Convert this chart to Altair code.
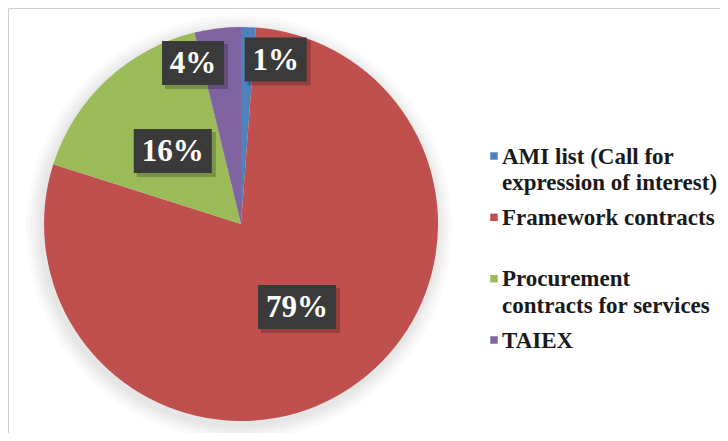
import altair as alt
import pandas as pd

# ---- data ----
categories = ["AMI list (Call for expression of interest)", "Framework contracts",
              "Procurement contracts for services", "TAIEX"]
legend_labels = ["AMI list (Call for\nexpression of interest)", "Framework contracts",
                 "Procurement\ncontracts for services", "TAIEX"]
shares = [1.2, 78.7, 16.3, 3.8]
pct_labels = ["1%", "79%", "16%", "4%"]
colors = ["#4F81BD", "#C0504D", "#9BBB59", "#8064A2"]

df = pd.DataFrame({
    "idx": list(range(len(categories))),
    "category": categories,
    "legend": legend_labels,
    "share": shares,
    "label": pct_labels,
})

W, H = 712, 425
CX, CY, R = 233, 216, 197
SERIF = "Liberation Serif"

xs = alt.Scale(domain=[0, W], range=[0, W], nice=False, zero=False)
ys = alt.Scale(domain=[0, H], range=[0, H], nice=False, zero=False)
color = alt.Color("category:N", scale=alt.Scale(domain=categories, range=colors), legend=None)

base = alt.Chart(df)

# soft shadow around the pie
shadows = [
    base.transform_filter("datum.idx == 0").mark_arc(
        theta=0, theta2=6.2832, radius=R + k, color="#000000", opacity=0.02
    ).encode(x=alt.value(CX - 2), y=alt.value(CY + 4))
    for k in (16, 12, 9, 6, 3)
]

pie = base.mark_arc(radius=R).encode(
    theta=alt.Theta("share:Q", stack=True),
    color=color,
    order=alt.Order("idx:Q"),
    x=alt.value(CX),
    y=alt.value(CY),
)

lab = base.transform_joinaggregate(total="sum(share)").transform_window(
    cum="sum(share)", sort=[alt.SortField("idx")], frame=[None, 0]
).transform_calculate(
    mid="(datum.cum - datum.share / 2) / datum.total * 2 * PI",
    ang="datum.share < 5 ? (datum.mid < PI ? datum.mid + 0.17 : datum.mid - 0.17) : datum.mid",
    rr="datum.share < 5 ? 168 : 100",
    cx=f"{CX} + datum.rr * sin(datum.ang)",
    cy=f"{CY} - datum.rr * cos(datum.ang)",
    hw="(16 * (length(datum.label) - 1) + 46) / 2",
    x1="datum.cx - datum.hw",
    x2="datum.cx + datum.hw",
    y1="datum.cy - 22",
    y2="datum.cy + 22",
)

box_enc = dict(
    x=alt.X("x1:Q", scale=xs, axis=None),
    x2="x2:Q",
    y=alt.Y("y1:Q", scale=ys, axis=None),
    y2="y2:Q",
)
box_shadow = lab.mark_rect(color="#000000", opacity=0.22, xOffset=3, x2Offset=4,
                           yOffset=3, y2Offset=4).encode(**box_enc)
box = lab.mark_rect(color="#3a3a3a").encode(**box_enc)
box_text = lab.mark_text(font=SERIF, fontWeight="bold", fontSize=31,
                         color="white", align="center", baseline="middle", dy=1).encode(
    x=alt.X("cx:Q", scale=xs, axis=None),
    y=alt.Y("cy:Q", scale=ys, axis=None),
    text="label:N",
)

pie_layer = alt.layer(*shadows, pie, box_shadow, box, box_text)

# ---- legend ----
ly = alt.Y("category:N", scale=alt.Scale(domain=categories, range=[148, 332], padding=0), axis=None)
leg_sq = base.mark_square(size=56, opacity=1).encode(x=alt.value(486), y=ly, color=color)
leg_txt = base.mark_text(align="left", baseline="alphabetic", dy=7.5, font=SERIF,
                         fontWeight="bold", fontSize=23, lineBreak="\n", lineHeight=26.5,
                         color="#1a1a1a").encode(x=alt.value(494), y=ly, text="legend:N")
legend_layer = alt.layer(leg_sq, leg_txt)

chart = alt.layer(pie_layer, legend_layer).resolve_scale(
    x="independent", y="independent"
).properties(width=W, height=H, autosize="none", padding=0).configure_view(stroke="#d0d0d0")

chart.save("out.html", embed_options={"renderer": "svg", "actions": False})
